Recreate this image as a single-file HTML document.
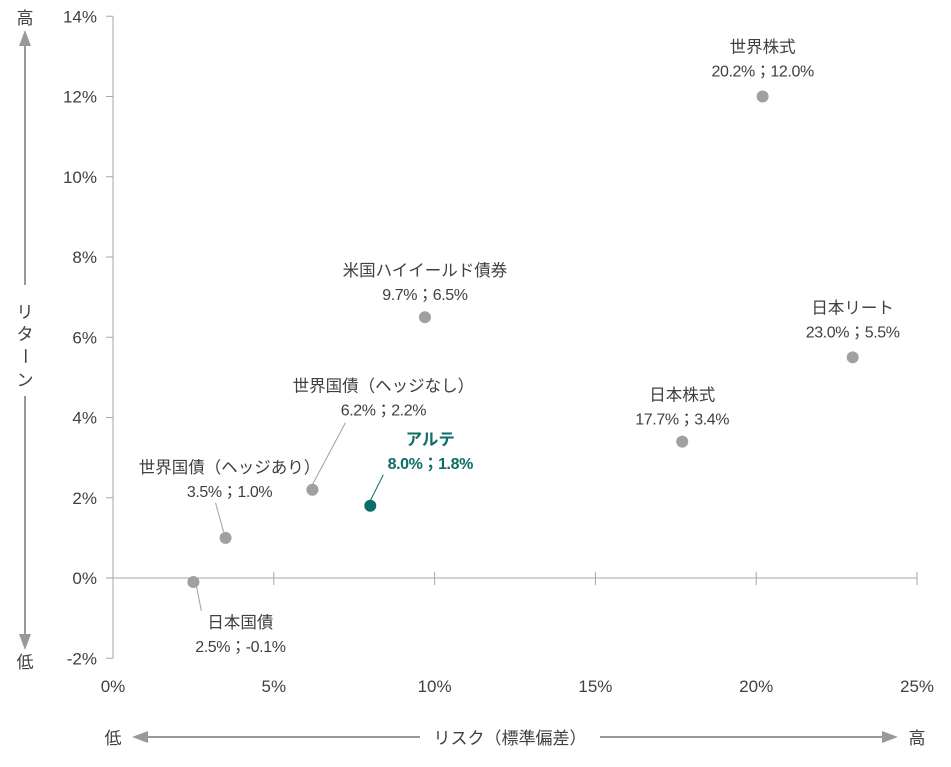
<!DOCTYPE html>
<html><head><meta charset="utf-8"><style>
body{margin:0;background:#fff}
svg{display:block;font-family:"Liberation Sans","Noto Sans CJK JP",sans-serif}
</style></head><body>
<svg id="chart" width="951" height="767" viewBox="0 0 951 767" xmlns="http://www.w3.org/2000/svg">
<defs><marker id="ah" markerWidth="8" markerHeight="8" refX="4" refY="4" orient="auto"><path d="M0,1 L8,4 L0,7 Z" fill="#999"/></marker></defs>
<g id="axes"></g><g id="marks"></g>
<g fill="#404040" font-size="17">
<text x="25" y="24" text-anchor="middle">高</text>
<line x1="25" y1="285" x2="25" y2="38" stroke="#999" stroke-width="2" marker-end="url(#ah)"/>
<text x="25" y="318" text-anchor="middle">リ</text>
<text x="25" y="340" text-anchor="middle">タ</text>
<text x="25" y="362" text-anchor="middle" transform="rotate(90 25 356)">ー</text>
<text x="25" y="386" text-anchor="middle">ン</text>
<line x1="25" y1="396" x2="25" y2="642" stroke="#999" stroke-width="2" marker-end="url(#ah)"/>
<text x="25" y="668" text-anchor="middle">低</text>
</g>
<g fill="#404040" font-size="17">
<text x="113" y="744" text-anchor="middle">低</text>
<line x1="420" y1="737" x2="140" y2="737" stroke="#999" stroke-width="2" marker-end="url(#ah)"/>
<text x="510" y="744" text-anchor="middle">リスク（標準偏差）</text>
<line x1="600" y1="737" x2="890" y2="737" stroke="#999" stroke-width="2" marker-end="url(#ah)"/>
<text x="917" y="744" text-anchor="middle">高</text>
</g>
</svg>
<script>
const names=["世界株式","米国ハイイールド債券","日本リート","世界国債（ヘッジなし）","日本株式","アルテ","世界国債（ヘッジあり）","日本国債"];
const risk=[20.2,9.7,23.0,6.2,17.7,8.0,3.5,2.5];
const ret=[12.0,6.5,5.5,2.2,3.4,1.8,1.0,-0.1];
const xTicks=[0,5,10,15,20,25];
const yTicks=[-2,0,2,4,6,8,10,12,14];
// label layout (pixel offsets relative to point, style only)
const lblDx=[0,0,0,71,0,60,4,47];
const lblDy=[-44,-41,-44,-98,-41,-61,-65,46];
const lead=[null,null,null,[0,-5,33,-67],null,[0,-5,13,-31],[-2,-6,-10,-35],[3,4,8,29]];
const X=v=>113+v*32.16, Y=v=>578-v*40.125;
const NS="http://www.w3.org/2000/svg";
function mk(t,a,p){const e=document.createElementNS(NS,t);for(const k in a)e.setAttribute(k,a[k]);p.appendChild(e);return e;}
const ax=document.getElementById('axes'), mg=document.getElementById('marks');
const ya=mk('line',{x1:X(0),y1:Y(14),x2:X(0),y2:Y(-2),stroke:'#a6a6a6'},ax);


const xa=mk('line',{x1:X(0)-7,y1:Y(0),x2:X(25),y2:Y(0),stroke:'#a6a6a6'},ax);


yTicks.forEach(v=>{
 mk('line',{x1:X(0)-7,y1:Y(v),x2:X(0),y2:Y(v),stroke:'#a6a6a6'},ax);
 const t=mk('text',{x:X(0)-16,y:Y(v)+6,'text-anchor':'end','font-size':17,fill:'#404040'},ax);
 t.textContent=(v<0?'-'+(-v):v)+'%';
 
 
});
xTicks.forEach(v=>{
 if(v>0)mk('line',{x1:X(v),y1:Y(0)-6,x2:X(v),y2:Y(0)+7,stroke:'#a6a6a6'},ax);
 const t=mk('text',{x:X(v),y:692,'text-anchor':'middle','font-size':17,fill:'#404040'},ax);
 t.textContent=v+'%';
 
 
});
names.forEach((n,i)=>{
 const px=X(risk[i]),py=Y(ret[i]),hl=n==='アルテ';
 const col=hl?'#0b6e69':'#a0a0a0', tc=hl?'#0b6e69':'#404040';
 const g=mk('g',{},mg);
 
 
 if(lead[i]){const l=lead[i];mk('line',{x1:px+l[0],y1:py+l[1],x2:px+l[2],y2:py+l[3],stroke:hl?col:'#a0a0a0'},g);}
 const c=mk('circle',{cx:px,cy:py,r:6,fill:col},g);
 
 
 const lx=px+lblDx[i], ly=py+lblDy[i];
 const t1=mk('text',{x:lx,y:ly,'text-anchor':'middle','font-size':16.5,fill:tc,'font-weight':hl?'bold':'normal'},g);
 t1.textContent=n;
 
 
 const t2=mk('text',{x:lx,y:ly+24,'text-anchor':'middle','font-size':16,'letter-spacing':-0.4,fill:tc,'font-weight':hl?'bold':'normal'},g);
 t2.textContent=risk[i].toFixed(1)+'%；'+ret[i].toFixed(1)+'%';
 
 
});
</script>
</body></html>
